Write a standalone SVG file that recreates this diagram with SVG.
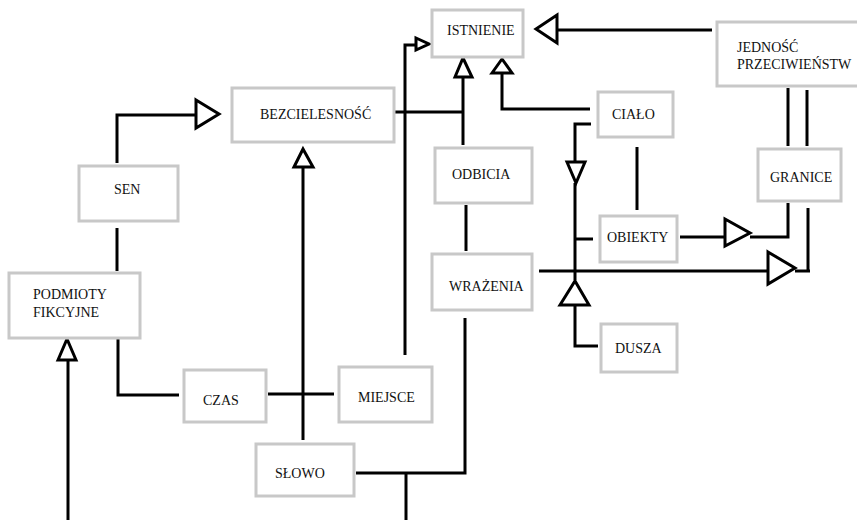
<svg xmlns="http://www.w3.org/2000/svg" width="857" height="520" viewBox="0 0 857 520">
  <style>
    .box { fill: #ffffff; stroke: #c8c8c8; stroke-width: 3; }
    .lbl { font-family: "Liberation Serif", "Times New Roman", serif; font-size: 14px; fill: #111111; }
    .ln { fill: none; stroke: #000000; stroke-width: 3; }
    .hd { fill: #ffffff; stroke: #000000; stroke-width: 3; stroke-linejoin: miter; }
  </style>
  <rect width="857" height="520" fill="#ffffff"/>

  <!-- connectors -->
  <g id="connectors">
    <!-- SEN -> BEZCIELESNOSC -->
    <polyline class="ln" points="117,163 117,115 196,115"/>
    <polygon class="hd" points="196,100 219,114 196,128"/>
    <!-- SEN - PODMIOTY -->
    <line class="ln" x1="117" y1="228" x2="117" y2="271"/>
    <!-- SLOWO -> BEZCIELESNOSC -->
    <line class="ln" x1="303" y1="440" x2="303" y2="167"/>
    <polygon class="hd" points="294,167 303,149 313,167"/>
    <!-- BEZCIELESNOSC / ODBICIA -> ISTNIENIE -->
    <line class="ln" x1="395" y1="112" x2="463" y2="112"/>
    <line class="ln" x1="463" y1="145" x2="463" y2="77"/>
    <polygon class="hd" points="455,77 463,58 472,77"/>
    <!-- MIEJSCE -> ISTNIENIE -->
    <polyline class="ln" points="405,355 405,45 416,45"/>
    <polygon class="hd" points="416,38 429,44 416,50"/>
    <!-- CIALO -> ISTNIENIE -->
    <polyline class="ln" points="590,109 502,109 502,73"/>
    <polygon class="hd" points="492,73 502,59 512,73"/>
    <!-- JEDNOSC -> ISTNIENIE -->
    <line class="ln" x1="712" y1="30" x2="557" y2="30"/>
    <polygon class="hd" points="557,15 536,29 557,43"/>
    <!-- JEDNOSC = GRANICE -->
    <line class="ln" x1="788" y1="88" x2="788" y2="146"/>
    <line class="ln" x1="807" y1="90" x2="807" y2="146"/>
    <!-- CIALO -> down -->
    <polyline class="ln" points="591,124 575,124 575,162"/>
    <polygon class="hd" points="567,162 585,162 576,183"/>
    <line class="ln" x1="575" y1="183" x2="575" y2="280"/>
    <!-- CIALO - OBIEKTY -->
    <line class="ln" x1="637" y1="147" x2="637" y2="210"/>
    <!-- OBIEKTY stub -->
    <line class="ln" x1="576" y1="239" x2="593" y2="239"/>
    <!-- OBIEKTY -> GRANICE -->
    <line class="ln" x1="680" y1="237" x2="725" y2="237"/>
    <polygon class="hd" points="725,219 750,233 725,246"/>
    <polyline class="ln" points="750,237 788,237 788,203"/>
    <!-- WRAZENIA -> GRANICE -->
    <line class="ln" x1="539" y1="271" x2="768" y2="271"/>
    <polygon class="hd" points="768,252 795,268 768,284"/>
    <polyline class="ln" points="795,271 810,271"/>
    <line class="ln" x1="808" y1="208" x2="808" y2="272"/>
    <!-- DUSZA -> up -->
    <polygon class="hd" points="560,305 575,281 589,305"/>
    <polyline class="ln" points="575,305 575,346 598,346"/>
    <!-- ODBICIA - WRAZENIA -->
    <line class="ln" x1="466" y1="205" x2="466" y2="251"/>
    <!-- WRAZENIA - SLOWO -->
    <polyline class="ln" points="465,318 465,473 356,473"/>
    <line class="ln" x1="406" y1="473" x2="406" y2="520"/>
    <!-- -> PODMIOTY FIKCYJNE -->
    <line class="ln" x1="68" y1="360" x2="68" y2="520"/>
    <polygon class="hd" points="58,360 67,339 76,360"/>
    <!-- PODMIOTY - CZAS -->
    <polyline class="ln" points="118,339 118,395 179,395"/>
    <!-- CZAS - MIEJSCE -->
    <line class="ln" x1="268" y1="394" x2="334" y2="394"/>
  </g>

  <g id="istnienie">
    <rect class="box" x="432" y="10" width="91" height="47"/>
    <text class="lbl" x="447" y="35">ISTNIENIE</text>
  </g>
  <g id="jednosc">
    <rect class="box" x="717" y="22" width="145" height="64"/>
    <text class="lbl" x="737" y="52">JEDNOŚĆ</text>
    <text class="lbl" x="737" y="69">PRZECIWIEŃSTW</text>
  </g>
  <g id="bezcielesnosc">
    <rect class="box" x="232" y="88" width="162" height="54"/>
    <text class="lbl" x="260" y="119">BEZCIELESNOŚĆ</text>
  </g>
  <g id="cialo">
    <rect class="box" x="598" y="92" width="75" height="45"/>
    <text class="lbl" x="612" y="119">CIAŁO</text>
  </g>
  <g id="odbicia">
    <rect class="box" x="435" y="148" width="97" height="55"/>
    <text class="lbl" x="452" y="179">ODBICIA</text>
  </g>
  <g id="granice">
    <rect class="box" x="758" y="149" width="83" height="52"/>
    <text class="lbl" x="770" y="182">GRANICE</text>
  </g>
  <g id="sen">
    <rect class="box" x="79" y="166" width="99" height="55"/>
    <text class="lbl" x="114" y="194">SEN</text>
  </g>
  <g id="obiekty">
    <rect class="box" x="600" y="216" width="77" height="46"/>
    <text class="lbl" x="607" y="242">OBIEKTY</text>
  </g>
  <g id="wrazenia">
    <rect class="box" x="432" y="254" width="100" height="56"/>
    <text class="lbl" x="449" y="291">WRAŻENIA</text>
  </g>
  <g id="podmioty">
    <rect class="box" x="9" y="273" width="131" height="65"/>
    <text class="lbl" x="33" y="299">PODMIOTY</text>
    <text class="lbl" x="33" y="317">FIKCYJNE</text>
  </g>
  <g id="dusza">
    <rect class="box" x="601" y="324" width="76" height="48"/>
    <text class="lbl" x="615" y="353">DUSZA</text>
  </g>
  <g id="czas">
    <rect class="box" x="184" y="370" width="82" height="52"/>
    <text class="lbl" x="203" y="405">CZAS</text>
  </g>
  <g id="miejsce">
    <rect class="box" x="339" y="367" width="93" height="55"/>
    <text class="lbl" x="358" y="402">MIEJSCE</text>
  </g>
  <g id="slowo">
    <rect class="box" x="256" y="444" width="98" height="52"/>
    <text class="lbl" x="275" y="478">SŁOWO</text>
  </g>
</svg>
